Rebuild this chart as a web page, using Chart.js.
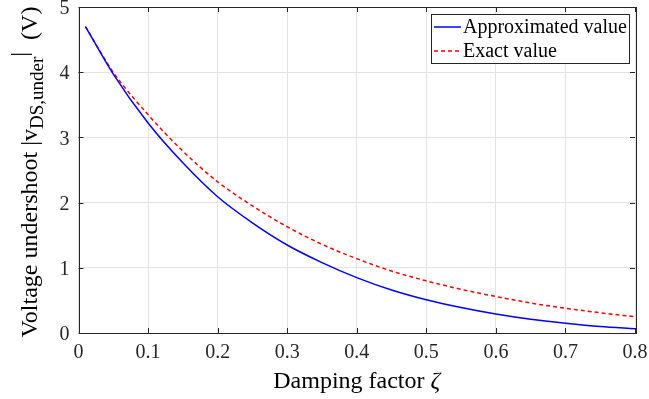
<!DOCTYPE html>
<html>
<head>
<meta charset="utf-8">
<script src="https://cdn.jsdelivr.net/npm/chart.js@4/dist/chart.umd.min.js"></script>
<style>
  html, body { margin: 0; padding: 0; background: #fff; }
  #wrap { width: 649px; height: 399px; }
</style>
</head>
<body>
<div id="wrap"><canvas id="c" width="649" height="399"></canvas></div>
<script>
// damping factor and undershoot voltage (V)
const zeta = [0.01, 0.05, 0.1, 0.15, 0.2, 0.25, 0.3, 0.35, 0.4, 0.45, 0.5, 0.55, 0.6, 0.65, 0.7, 0.75, 0.8]
const approxV = [4.70, 3.97, 3.22, 2.61, 2.09, 1.69, 1.35, 1.08, 0.85, 0.66, 0.51, 0.39, 0.29, 0.21, 0.15, 0.10, 0.066]
const exactV = [4.70, 4.00, 3.35, 2.79, 2.32, 1.95, 1.63, 1.36, 1.14, 0.95, 0.80, 0.67, 0.56, 0.46, 0.38, 0.31, 0.25]
const xTicks = [0, 0.1, 0.2, 0.3, 0.4, 0.5, 0.6, 0.7, 0.8]
const yTicks = [0, 1, 2, 3, 4, 5]

const serif = '"Liberation Serif", "Times New Roman", serif'
const axisColor = '#262626'

function pts(ys) {
  return zeta.map((x, i) => ({x: x, y: ys[i]}))
}

// keep tick labels from pushing the plot area in
function noLabelPadding(s) {
  s.paddingLeft = 0; s.paddingRight = 0
  s.paddingTop = 0; s.paddingBottom = 0
}

// box, inward ticks, legend and axis titles the way MATLAB draws them
const matlabAxes = {
  id: 'matlabAxes',
  afterDraw(chart) {
    const ctx = chart.ctx
    const a = chart.chartArea
    const xs = chart.scales.x, ys = chart.scales.y
    ctx.save()
    ctx.strokeStyle = axisColor
    ctx.lineWidth = 1
    ctx.beginPath()
    xTicks.forEach(t => {
      const px = Math.round(xs.getPixelForValue(t)) + 0.5
      ctx.moveTo(px, a.bottom); ctx.lineTo(px, a.bottom - 5)
      ctx.moveTo(px, a.top); ctx.lineTo(px, a.top + 5)
    })
    yTicks.forEach(t => {
      const py = Math.round(ys.getPixelForValue(t)) + 0.5
      ctx.moveTo(a.left, py); ctx.lineTo(a.left + 5, py)
      ctx.moveTo(a.right, py); ctx.lineTo(a.right - 5, py)
    })
    ctx.stroke()
    ctx.strokeRect(Math.round(a.left) + 0.5, Math.round(a.top) + 0.5,
      Math.round(a.right - a.left), Math.round(a.bottom - a.top))

    // legend
    const lx = 431, ly = 14, lw = 198, lh = 49
    ctx.fillStyle = '#fff'
    ctx.fillRect(lx, ly, lw, lh)
    ctx.strokeRect(lx + 0.5, ly + 0.5, lw, lh)
    const rows = [
      {label: 'Approximated value', color: '#0000ff', dash: []},
      {label: 'Exact value', color: '#ff0000', dash: [4, 3]}
    ]
    ctx.font = '20px ' + serif
    ctx.textBaseline = 'middle'
    rows.forEach((r, i) => {
      const y = ly + 13 + i * 24
      ctx.strokeStyle = r.color
      ctx.lineWidth = 1.5
      ctx.setLineDash(r.dash)
      ctx.beginPath(); ctx.moveTo(lx + 3, y); ctx.lineTo(lx + 30, y); ctx.stroke()
      ctx.setLineDash([])
      ctx.fillStyle = '#000'
      ctx.fillText(r.label, lx + 32, y + 1)
    })

    // x title
    ctx.fillStyle = '#000'
    ctx.textBaseline = 'alphabetic'
    const cx = (a.left + a.right) / 2
    const t1 = 'Damping factor '
    ctx.font = 'italic 24px ' + serif
    const wz = ctx.measureText('ζ').width
    ctx.font = '24px ' + serif
    const w1 = ctx.measureText(t1).width
    const x0 = cx - (w1 + wz) / 2
    ctx.fillText(t1, x0, 388)
    ctx.font = 'italic 24px ' + serif
    ctx.fillText('ζ', x0 + w1, 388)

    // y title with subscript
    const parts = [
      {t: 'Voltage undershoot |v', f: '24px ' + serif, dy: 0},
      {t: 'DS,under', f: '19px ' + serif, dy: 6},
      {t: '|', f: '24px ' + serif, dy: -10},
      {t: '  (V)', f: '24px ' + serif, dy: 0}
    ]
    let total = 0
    parts.forEach(p => { ctx.font = p.f; p.w = ctx.measureText(p.t).width; total += p.w })
    ctx.translate(37, (a.top + a.bottom) / 2 + 2)
    ctx.rotate(-Math.PI / 2)
    let px = -total / 2
    parts.forEach(p => {
      ctx.font = p.f
      ctx.fillText(p.t, px, p.dy)
      px += p.w
    })
    ctx.restore()
  }
}

new Chart(document.getElementById('c'), {
  type: 'line',
  data: {
    datasets: [
      {
        label: 'Approximated value',
        data: pts(approxV),
        borderColor: '#0000ff',
        borderWidth: 1.5,
        pointRadius: 0,
        cubicInterpolationMode: 'monotone'
      },
      {
        label: 'Exact value',
        data: pts(exactV),
        borderColor: '#ff0000',
        borderWidth: 1.5,
        borderDash: [4, 3],
        pointRadius: 0,
        cubicInterpolationMode: 'monotone'
      }
    ]
  },
  options: {
    responsive: false,
    animation: false,
    events: [],
    layout: {padding: {left: 0, right: 14, top: 7, bottom: 0}},
    plugins: {legend: {display: false}, tooltip: {enabled: false}},
    scales: {
      x: {
        type: 'linear',
        min: 0, max: 0.8,
        afterBuildTicks: s => { s.ticks = xTicks.map(v => ({value: v})) },
        afterFit: s => { s.height = 66; noLabelPadding(s) },
        grid: {color: '#e3e3e3', drawTicks: false},
        border: {display: false},
        ticks: {
          padding: 8,
          color: axisColor,
          font: {family: serif, size: 20},
          callback: v => String(v)
        }
      },
      y: {
        type: 'linear',
        min: 0, max: 5,
        afterBuildTicks: s => { s.ticks = yTicks.map(v => ({value: v})) },
        afterFit: s => { s.width = 78.5; noLabelPadding(s) },
        grid: {color: '#e3e3e3', drawTicks: false},
        border: {display: false},
        ticks: {
          padding: 9,
          labelOffset: 2,
          color: axisColor,
          font: {family: serif, size: 20}
        }
      }
    }
  },
  plugins: [matlabAxes]
})
</script>
</body>
</html>
